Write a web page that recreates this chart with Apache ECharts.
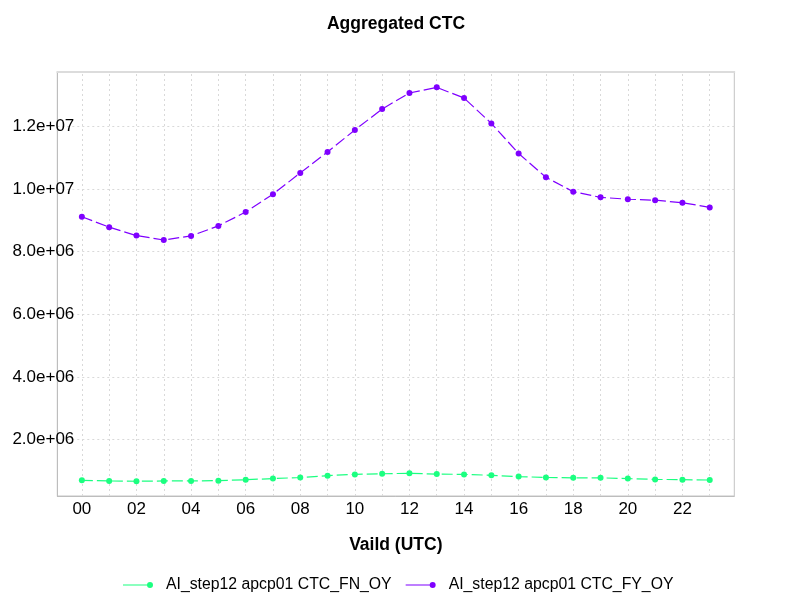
<!DOCTYPE html>
<html>
<head>
<meta charset="utf-8">
<script src="https://cdn.jsdelivr.net/npm/echarts@6/dist/echarts.min.js"></script>
<style>html,body{margin:0;padding:0;background:#fff}#c{width:792px;height:612px}</style>
</head>
<body>
<div id="c"></div>
<script>
var hours = [0,1,2,3,4,5,6,7,8,9,10,11,12,13,14,15,16,17,18,19,20,21,22,23];
var seriesNames = ['AI_step12 apcp01 CTC_FN_OY', 'AI_step12 apcp01 CTC_FY_OY'];
var fnOy = [0.70e6,0.68e6,0.67e6,0.68e6,0.68e6,0.69e6,0.72e6,0.755e6,0.79e6,0.85e6,0.89e6,0.91e6,0.925e6,0.90e6,0.89e6,0.86e6,0.82e6,0.79e6,0.78e6,0.78e6,0.755e6,0.73e6,0.72e6,0.71e6];
var fyOy = [9.11e6,8.78e6,8.51e6,8.37e6,8.50e6,8.82e6,9.26e6,9.83e6,10.51e6,11.18e6,11.88e6,12.55e6,13.06e6,13.24e6,12.90e6,12.09e6,11.13e6,10.37e6,9.91e6,9.73e6,9.67e6,9.64e6,9.56e6,9.41e6];
var yTicks = [2e6, 4e6, 6e6, 8e6, 10e6, 12e6];
var xGridTicks = hours;
var colors = ['#1bff80', '#7f00ff'];

function pairs(vals){ return hours.map(function(h,i){ return [h, vals[i]]; }); }
function isMult(v, m){ var k = v/m; return Math.abs(k - Math.round(k)) < 1e-6; }
function fmtY(v){
  if (!isMult(v, 2e6) || v <= 0) return '';
  return v.toExponential(1).replace(/e([+-])(\d)$/, 'e$10$2');
}
function fmtX(v){
  if (!isMult(v, 1)) return '';
  var r = Math.round(v);
  if (r % 2 !== 0 || r < 0) return '';
  return (r < 10 ? '0' : '') + r;
}
var gridStyle = { color: '#d9d9d9', type: [2,3], width: 1 };
var gridLines = xGridTicks.map(function(h){ return { xAxis: h }; })
  .concat(yTicks.map(function(v){ return { yAxis: v }; }));

var icon = 'path://M0,2.5 L27,2.5 L27,3.5 L0,3.5 Z M30,3 A3,3 0 1 1 24,3 A3,3 0 1 1 30,3 Z';
var font = 'Liberation Sans, Arial, Helvetica, sans-serif';
var chart = echarts.init(document.getElementById('c'));
chart.setOption({
  animation: false,
  color: colors,
  title: { text: 'Aggregated CTC', left: 'center', top: 10,
    textStyle: { fontFamily: font, fontSize: 17.5, fontWeight: 'bold', color: '#000' } },
  grid: { left: 57.3, right: 57.7, top: 71.7, bottom: 116, containLabel: false,
    show: true, borderColor: '#c4c4c4', borderWidth: 1 },
  legend: { bottom: 14, left: 118, itemWidth: 30, itemHeight: 6, itemGap: 14,
    icon: icon,
    textStyle: { fontFamily: font, fontSize: 15.8, color: '#000', padding: [0,0,0,8] },
    data: seriesNames },
  xAxis: [{
    type: 'value', min: -0.9, max: 23.9, interval: 0.1,
    name: 'Vaild (UTC)', nameLocation: 'middle', nameGap: 40,
    nameTextStyle: { fontFamily: font, fontSize: 17.5, fontWeight: 'bold', color: '#000' },
    axisLine: { show: true, onZero: false, lineStyle: { color: '#bdbdbd' } },
    axisTick: { show: false },
    axisLabel: { formatter: fmtX, fontFamily: font, fontSize: 17, color: '#000', margin: 5 },
    splitLine: { show: false }
  }, {
    type: 'value', position: 'top', min: -0.9, max: 23.9,
    axisLine: { show: true, onZero: false, lineStyle: { color: '#dcdcdc', width: 2 } },
    axisTick: { show: false }, axisLabel: { show: false }, splitLine: { show: false }
  }],
  yAxis: {
    type: 'value', min: 0.2e6, max: 13.74e6, interval: 0.2e6,
    axisLine: { show: true, onZero: false, lineStyle: { color: '#bdbdbd' } },
    axisTick: { show: false },
    axisLabel: { formatter: fmtY, fontFamily: font, fontSize: 17, color: '#000', margin: -17 },
    splitLine: { show: false }
  },
  series: [
    { name: 'grid', type: 'line', data: [], z: 0, zlevel: 0, silent: true,
      markLine: { z: 0, silent: true, symbol: ['none','none'], label: { show: false },
        lineStyle: gridStyle, emphasis: { disabled: true }, animation: false, data: gridLines } },
    { name: seriesNames[0], type: 'line', data: pairs(fnOy), symbol: 'circle', symbolSize: 6,
      itemStyle: { color: colors[0] }, lineStyle: { color: colors[0], width: 1.2, type: [11,4] }, z: 3 },
    { name: seriesNames[1], type: 'line', data: pairs(fyOy), symbol: 'circle', symbolSize: 6,
      itemStyle: { color: colors[1] }, lineStyle: { color: colors[1], width: 1.2, type: [11,4] }, z: 4 }
  ]
});
</script>
</body>
</html>
